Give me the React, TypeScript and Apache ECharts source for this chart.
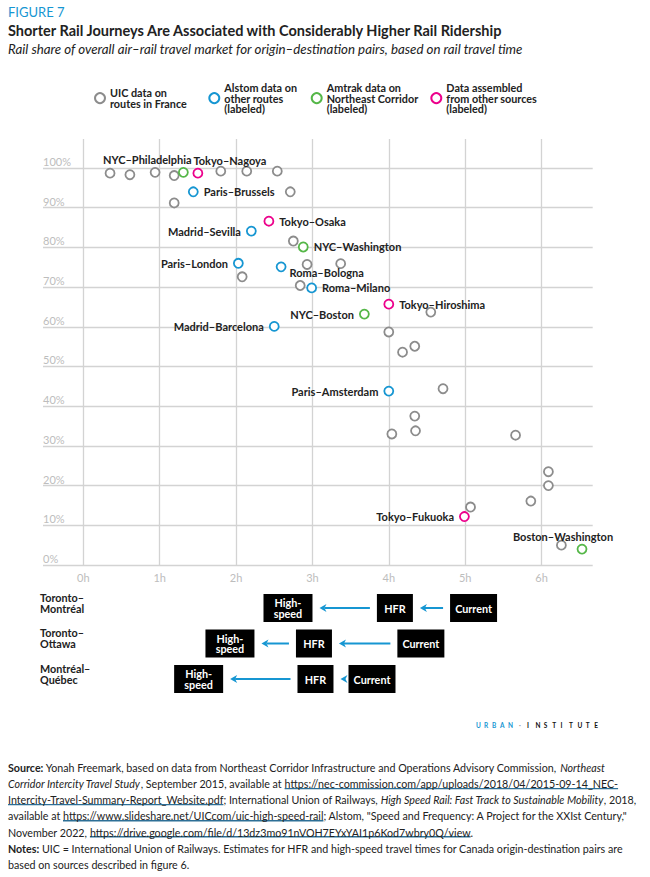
import React, { useEffect, useRef } from 'react';
import * as echarts from 'echarts';

// ---------- data ----------
const xTicks = [0, 1, 2, 3, 4, 5, 6];
const yTicks = [0, 10, 20, 30, 40, 50, 60, 70, 80, 90, 100];

// UIC data on routes in France (hours, % rail share)
const uicX = [0.35, 0.61, 0.94, 1.19, 1.80, 2.14, 2.54, 2.71, 1.19, 2.75, 2.08, 2.93, 2.84, 3.37, 4.55, 4.00, 4.18, 4.34, 4.71, 4.34, 4.04, 4.35, 5.66, 6.09, 6.09, 5.86, 5.07, 6.26];
const uicY = [98.7, 98.3, 98.9, 98.1, 99.2, 99.2, 99.2, 94.0, 91.2, 81.6, 72.6, 75.7, 70.4, 75.9, 63.7, 58.7, 53.6, 55.1, 44.4, 37.5, 33.0, 33.8, 32.7, 23.5, 20.0, 16.1, 14.6, 5.0];

const alstomNames = ['Paris–Brussels', 'Madrid–Sevilla', 'Paris–London', 'Roma–Bologna', 'Roma–Milano', 'Madrid–Barcelona', 'Paris–Amsterdam'];
const alstomX = [1.44, 2.20, 2.03, 2.59, 2.99, 2.50, 4.00];
const alstomY = [94.0, 84.1, 76.0, 75.1, 69.8, 60.1, 43.8];

const amtrakNames = ['NYC–Philadelphia', 'NYC–Washington', 'NYC–Boston', 'Boston–Washington'];
const amtrakX = [1.31, 2.88, 3.68, 6.53];
const amtrakY = [98.9, 80.1, 63.2, 4.0];

const otherNames = ['Tokyo–Nagoya', 'Tokyo–Osaka', 'Tokyo–Hiroshima', 'Tokyo–Fukuoka'];
const otherX = [1.50, 2.43, 4.00, 4.99];
const otherY = [98.7, 86.6, 65.7, 12.2];

const seriesNames = [
  'UIC data on\nroutes in France',
  'Alstom data on\nother routes\n(labeled)',
  'Amtrak data on\nNortheast Corridor\n(labeled)',
  'Data assembled\nfrom other sources\n(labeled)',
];

// Canada origin-destination pairs (rail travel time, hours)
const canadaRoutes = ['Toronto–\nMontréal', 'Toronto–\nOttawa', 'Montréal–\nQuébec'];
const currentHours = [5.11, 4.42, 3.78];
const hfrHours = [4.08, 3.02, 3.04];
const highSpeedHours = [2.68, 1.92, 1.51];
const stageLabels = ['Current', 'HFR', 'High-\nspeed'];

// ---------- styles ----------
const FONT = 'Lato, "Noto Sans", sans-serif';
const INK = '#222222';
const GRAY = '#8c8c8c';
const BLUE = '#1696d2';
const GREEN = '#55b748';
const PINK = '#ec008b';
const seriesColors = [GRAY, BLUE, GREEN, PINK];
const legendLeft = [94, 208.3, 310.7, 430.3];
const legendLines = [2, 3, 3, 3];
const SMALL = 10.8;
const LEGEND_LH = 10.8;

const labelPlacement: Record<string, any> = {
  'NYC–Philadelphia': { position: 'top', offset: [-36, 0], distance: 2 },
  'Tokyo–Nagoya': { position: 'top', offset: [32, 0], distance: 2 },
  'Paris–Brussels': { position: 'right' },
  'Tokyo–Osaka': { position: 'right' },
  'Madrid–Sevilla': { position: 'left' },
  'NYC–Washington': { position: 'right' },
  'Paris–London': { position: 'left' },
  'Roma–Bologna': { position: 'right', offset: [-2, 6] },
  'Roma–Milano': { position: 'right' },
  'NYC–Boston': { position: 'left' },
  'Madrid–Barcelona': { position: 'left' },
  'Tokyo–Hiroshima': { position: 'right' },
  'Paris–Amsterdam': { position: 'left' },
  'Tokyo–Fukuoka': { position: 'left' },
  'Boston–Washington': { position: 'top', offset: [-19, 0], distance: 2 },
};

const boxWidths = [47, 36, 49];
const BOX_H = 28;
const ARROW_GAP = 7;

function pointData(xs: number[], ys: number[], names?: string[]) {
  return xs.map((x, i) => {
    const item: any = { value: [x, ys[i]] };
    if (names) {
      item.name = names[i];
      item.label = { show: true, formatter: names[i], ...labelPlacement[names[i]] };
    }
    return item;
  });
}

function renderCanada(params: any, api: any) {
  const row = api.value(0);
  const hours = [api.value(1), api.value(2), api.value(3)];
  const pts = hours.map((h: number) => api.coord([h, row]));
  const children: any[] = [];
  const boxes = pts.map((p: number[], k: number) => ({
    left: p[0] - boxWidths[k] / 2,
    right: p[0] + boxWidths[k] / 2,
    cx: p[0],
    cy: p[1],
  }));
  // arrows: current -> HFR, HFR -> high-speed
  for (let k = 0; k < 2; k++) {
    const from = boxes[k];
    const to = boxes[k + 1];
    const start = from.left - ARROW_GAP;
    const tip = to.right + ARROW_GAP;
    const y = from.cy;
    if (start > tip + 6) {
      children.push({
        type: 'line',
        shape: { x1: start, y1: y, x2: tip + 5, y2: y },
        style: { stroke: BLUE, lineWidth: 2 },
      });
    }
    children.push({
      type: 'polygon',
      shape: { points: [[tip, y], [tip + 7, y - 4], [tip + 5, y], [tip + 7, y + 4]] },
      style: { fill: BLUE },
    });
  }
  boxes.forEach((b: any, k: number) => {
    children.push({
      type: 'rect',
      shape: { x: b.left, y: b.cy - BOX_H / 2, width: b.right - b.left, height: BOX_H },
      style: { fill: '#000000' },
    });
    children.push({
      type: 'text',
      style: {
        text: stageLabels[k],
        x: b.cx,
        y: b.cy,
        align: 'center',
        verticalAlign: 'middle',
        textAlign: 'center',
        textVerticalAlign: 'middle',
        fill: '#ffffff',
        fontFamily: FONT,
        fontWeight: 'bold',
        fontSize: SMALL,
        lineHeight: SMALL,
      },
    });
  });
  return { type: 'group', children };
}

function buildOption() {
  const pointSeries = [
    { data: pointData(uicX, uicY) },
    { data: pointData(alstomX, alstomY, alstomNames) },
    { data: pointData(amtrakX, amtrakY, amtrakNames) },
    { data: pointData(otherX, otherY, otherNames) },
  ].map((s, i) => ({
    type: 'scatter',
    name: seriesNames[i],
    xAxisIndex: 0,
    yAxisIndex: 0,
    symbol: 'circle',
    symbolSize: 9,
    z: 3 + i,
    itemStyle: { color: '#ffffff', borderColor: seriesColors[i], borderWidth: 1.8, opacity: 1 },
    label: {
      show: false,
      fontFamily: FONT,
      fontWeight: 'bold',
      fontSize: 11,
      color: INK,
    },
    emphasis: { disabled: true },
    data: s.data,
  }));

  const gridSeries = {
    type: 'scatter',
    xAxisIndex: 0,
    yAxisIndex: 0,
    data: [[0, 0]],
    symbolSize: 0,
    silent: true,
    z: 1,
    markLine: {
      z: 1,
      silent: true,
      symbol: ['none', 'none'],
      label: { show: false },
      lineStyle: { color: '#d3d3d3', width: 1.3, type: 'solid' },
      emphasis: { disabled: true },
      data: [...yTicks.map((v) => ({ yAxis: v })), ...xTicks.map((v) => ({ xAxis: v }))],
    },
  };

  const canadaSeries = {
    type: 'custom',
    xAxisIndex: 1,
    yAxisIndex: 1,
    renderItem: renderCanada,
    encode: { x: [1, 2, 3], y: 0 },
    silent: true,
    data: canadaRoutes.map((_, i) => [i, currentHours[i], hfrHours[i], highSpeedHours[i]]),
  };

  const legends = seriesNames.map((name, i) => ({
    data: [name],
    left: legendLeft[i],
    top: 98 - (legendLines[i] * LEGEND_LH) / 2,
    padding: 0,
    orient: 'horizontal',
    icon: 'circle',
    itemWidth: 10,
    itemHeight: 10,
    selectedMode: false,
    textStyle: { fontFamily: FONT, fontWeight: 'bold', fontSize: SMALL, lineHeight: LEGEND_LH, color: INK },
  }));

  // footer text
  const footer =
    '{b|Source:} Yonah Freemark, based on data from Northeast Corridor Infrastructure and Operations Advisory Commission, {i|Northeast}\n' +
    '{i|Corridor Intercity Travel Study}, September 2015, available at {u|https://nec-commission.com/app/uploads/2018/04/2015-09-14_NEC-}\n' +
    '{u|Intercity-Travel-Summary-Report_Website.pdf}; International Union of Railways, {i|High Speed Rail: Fast Track to Sustainable Mobility}, 2018,\n' +
    'available at {u|https://www.slideshare.net/UICcom/uic-high-speed-rail}; Alstom, "Speed and Frequency: A Project for the XXIst Century,"\n' +
    'November 2022, {u|https://drive.google.com/file/d/13dz3mo91nVOH7EYxYAI1p6Kod7wbry0Q/view}.\n' +
    '{b|Notes:} UIC = International Union of Railways. Estimates for HFR and high-speed travel times for Canada origin-destination pairs are\n' +
    'based on sources described in figure 6.';

  const FS = 10.7;
  const base = { fontFamily: FONT, fontSize: FS, color: INK, lineHeight: 16.1 };
  const underline = new echarts.graphic.LinearGradient(0, 0, 0, 1, [
    { offset: 0, color: 'rgba(255,255,255,0)' },
    { offset: 0.9, color: 'rgba(255,255,255,0)' },
    { offset: 0.9, color: '#2d6f96' },
    { offset: 1, color: '#2d6f96' },
  ]);

  const logoLetters: any[] = [];
  'URBAN'.split('').forEach((ch, i) => {
    logoLetters.push({ type: 'text', left: 476 + i * 8, top: 722, style: { text: ch, fill: BLUE, font: `bold 6.5px ${FONT}` } });
  });
  logoLetters.push({ type: 'text', left: 519, top: 722, style: { text: '·', fill: '#999999', font: `bold 6.5px ${FONT}` } });
  'INSTITUTE'.split('').forEach((ch, i) => {
    logoLetters.push({ type: 'text', left: 527 + i * 8.4, top: 722, style: { text: ch, fill: '#111111', font: `bold 6.5px ${FONT}` } });
  });

  return {
    animation: false,
    backgroundColor: '#ffffff',
    textStyle: { fontFamily: FONT },
    grid: [
      { left: 43, right: 57.3, top: 139, bottom: 312 },
      { left: 43, right: 57.3, top: 590.25, height: 106.5 },
    ],
    xAxis: [
      {
        type: 'value',
        gridIndex: 0,
        min: -0.528,
        max: 6.67,
        axisLine: { show: false },
        axisTick: { show: false },
        splitLine: { show: false },
        axisLabel: {
          customValues: xTicks,
          formatter: (v: number) => `${v}h`,
          color: '#bdbdbd',
          fontFamily: FONT,
          fontSize: 11,
          margin: 7,
        },
      },
      {
        type: 'value',
        gridIndex: 1,
        min: -0.528,
        max: 6.67,
        show: false,
        splitLine: { show: false },
      },
    ],
    yAxis: [
      {
        type: 'value',
        gridIndex: 0,
        min: 0,
        max: 107.3,
        axisLine: { show: false },
        axisTick: { show: false },
        splitLine: { show: false },
        axisLabel: {
          customValues: yTicks,
          formatter: (v: number) => `${v}%`,
          inside: true,
          margin: 0,
          verticalAlign: 'bottom',
          padding: [0, 0, 1, 0],
          color: '#bdbdbd',
          fontFamily: FONT,
          fontSize: 11,
        },
      },
      {
        type: 'category',
        gridIndex: 1,
        data: canadaRoutes,
        inverse: true,
        axisLine: { show: false },
        axisTick: { show: false },
        splitLine: { show: false },
        axisLabel: {
          align: 'left',
          margin: 3,
          fontFamily: FONT,
          fontWeight: 'bold',
          fontSize: SMALL,
          lineHeight: SMALL,
          color: INK,
          // an empty third line lifts the two-line name above the row centre, as in the reference
          formatter: (v: string) => `${v}\n`,
        },
      },
    ],
    legend: legends,
    series: [gridSeries, ...pointSeries, canadaSeries],
    graphic: [
      { type: 'text', left: 8, top: 5, style: { text: 'FIGURE 7', fill: BLUE, font: `13px ${FONT}` } },
      {
        type: 'text',
        left: 8,
        top: 23,
        style: { text: 'Shorter Rail Journeys Are Associated with Considerably Higher Rail Ridership', fill: INK, font: `bold 14.5px ${FONT}` },
      },
      {
        type: 'text',
        left: 8,
        top: 42,
        style: {
          text: 'Rail share of overall air–rail travel market for origin–destination pairs, based on rail travel time',
          fill: INK,
          font: `italic 13.3px ${FONT}`,
        },
      },
      ...logoLetters,
      {
        type: 'text',
        left: 8,
        top: 759.6,
        style: {
          text: footer,
          fill: INK,
          fontFamily: FONT,
          fontSize: FS,
          lineHeight: 16.1,
          rich: {
            b: { ...base, fontWeight: 'bold' },
            i: { ...base, fontStyle: 'italic' },
            u: { ...base, color: '#2d6f96', lineHeight: 13, backgroundColor: underline },
          },
        },
      },
    ],
  };
}

export default function App() {
  const ref = useRef<HTMLDivElement>(null);
  useEffect(() => {
    if (!ref.current) return;
    const chart = echarts.init(ref.current, undefined, { renderer: 'svg' });
    chart.setOption(buildOption() as any);
    return () => chart.dispose();
  }, []);
  return (
    <div
      ref={ref}
      style={{ position: 'absolute', left: 0, top: 0, width: 650, height: 877, background: '#fff' }}
    />
  );
}
